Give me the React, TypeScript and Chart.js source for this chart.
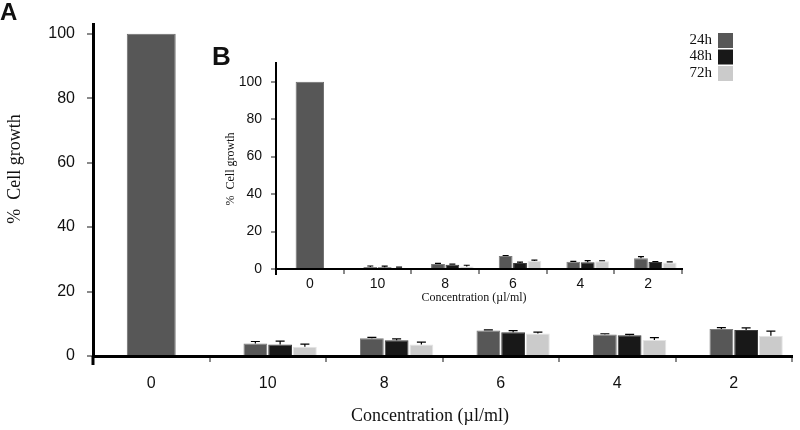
import React, { useEffect, useRef } from 'react';
import { Chart, registerables } from 'chart.js';

Chart.register(...registerables);

// ---------- data ----------
const categories = ['0', '10', '8', '6', '4', '2'];
const seriesLabels = ['24h', '48h', '72h'];

// Panel A (main)
const controlA = [100, null, null, null, null, null];
const a24 = [null, 3.9, 5.5, 7.9, 6.7, 8.4];
const a48 = [null, 3.6, 4.9, 7.4, 6.4, 8.1];
const a72 = [null, 2.9, 3.6, 7.0, 5.0, 6.3];
const a24Err = [null, 0.6, 0.3, 0.2, 0.2, 0.4];
const a48Err = [null, 1.0, 0.4, 0.5, 0.3, 0.6];
const a72Err = [null, 0.8, 0.7, 0.4, 0.7, 1.4];
const yTicksA = [0, 20, 40, 60, 80, 100];

// Panel B (inset)
const controlB = [100, null, null, null, null, null];
const b24 = [null, 1.1, 2.7, 6.9, 3.9, 5.7];
const b48 = [null, 0.9, 2.3, 3.2, 3.6, 3.7];
const b72 = [null, 0.7, 1.4, 4.3, 4.1, 3.5];
const b24Err = [null, 0.5, 0.3, 0.3, 0.2, 0.9];
const b48Err = [null, 0.6, 0.3, 0.5, 0.9, 0.3];
const b72Err = [null, 0.3, 0.6, 0.4, 0.3, 0.3];
const yTicksB = [0, 20, 40, 60, 80, 100];

const xTitle = 'Concentration (µl/ml)';
const yTitle = '%  Cell growth';

// ---------- styles ----------
const SANS = "'Liberation Sans', Arial, sans-serif";
const SERIF = "'Liberation Serif', 'Times New Roman', serif";
const C24 = '#575757';
const C48 = '#181818';
const C72 = '#cbcbcb';
const seriesColors = [C24, C48, C72];
const seriesBorders = ['#7c7c7c', '#3c3c3c', '#e4e4e4'];

const errorBarPlugin = {
  id: 'errorBars',
  afterDatasetsDraw(chart: any, _args: any, opts: any) {
    const ctx = chart.ctx;
    const yScale = chart.scales.y;
    chart.data.datasets.forEach((ds: any, i: number) => {
      if (!ds.errors) return;
      const meta = chart.getDatasetMeta(i);
      meta.data.forEach((bar: any, j: number) => {
        const v = ds.data[j];
        const e = ds.errors[j];
        if (v == null || e == null) return;
        const yTop = yScale.getPixelForValue(v + e);
        const half = (opts.cap || 8) / 2;
        ctx.save();
        ctx.strokeStyle = '#000';
        ctx.lineWidth = opts.lineWidth || 1.2;
        ctx.beginPath();
        ctx.moveTo(bar.x, bar.y);
        ctx.lineTo(bar.x, yTop);
        ctx.moveTo(bar.x - half, yTop);
        ctx.lineTo(bar.x + half, yTop);
        ctx.stroke();
        ctx.restore();
      });
    });
  },
};

function drawText(ctx: CanvasRenderingContext2D, text: string, x: number, y: number, font: string, rotate = false, align: CanvasTextAlign = 'center') {
  ctx.save();
  ctx.font = font;
  ctx.fillStyle = '#111';
  ctx.textAlign = align;
  ctx.textBaseline = 'middle';
  ctx.translate(x, y);
  if (rotate) ctx.rotate(-Math.PI / 2);
  ctx.fillText(text, 0, 0);
  ctx.restore();
}

const mainDecor = {
  id: 'mainDecor',
  afterDraw(chart: any) {
    const ctx = chart.ctx as CanvasRenderingContext2D;
    const ca = chart.chartArea;
    // y axis extension below x axis
    ctx.save();
    ctx.strokeStyle = '#000';
    ctx.lineWidth = 3;
    ctx.beginPath();
    ctx.moveTo(ca.left, ca.bottom);
    ctx.lineTo(ca.left, ca.bottom + 9);
    ctx.stroke();
    ctx.restore();
    // axis titles
    drawText(ctx, xTitle, 430, 416, `18px ${SERIF}`);
    drawText(ctx, yTitle, 15, 169, `18px ${SERIF}`, true);
    // panel letters
    ctx.save();
    ctx.fillStyle = '#111';
    ctx.font = `bold 24px ${SANS}`;
    ctx.textBaseline = 'alphabetic';
    ctx.fillText('A', 0, 20);
    ctx.font = `bold 26px ${SANS}`;
    ctx.fillText('B', 212, 65);
    ctx.restore();
    // legend
    seriesLabels.forEach((lab, i) => {
      const cy = 40 + i * 16.5;
      drawText(ctx, lab, 712, cy, `15px ${SERIF}`, false, 'right');
      ctx.save();
      ctx.fillStyle = seriesColors[i];
      ctx.fillRect(718, cy - 7, 15, 15);
      ctx.restore();
    });
  },
};

const insetDecor = {
  id: 'insetDecor',
  afterDraw(chart: any) {
    const ctx = chart.ctx as CanvasRenderingContext2D;
    const ca = chart.chartArea;
    ctx.save();
    ctx.strokeStyle = '#000';
    ctx.lineWidth = 2;
    ctx.beginPath();
    ctx.moveTo(ca.left, ca.bottom);
    ctx.lineTo(ca.left, ca.bottom + 6);
    ctx.stroke();
    ctx.restore();
    drawText(ctx, xTitle, 274, 268, `12px ${SERIF}`);
    drawText(ctx, yTitle, 31, 139, `12px ${SERIF}`, true);
  },
};

function buildConfig(p: any): any {
  const datasets: any[] = [
    {
      label: 'control',
      data: p.control,
      grouped: false,
      barPercentage: 0.42,
      categoryPercentage: 1,
      backgroundColor: C24,
      borderColor: '#6c6c6c',
      borderWidth: 1,
    },
    {
      label: 'control slot',
      data: categories.map(() => null),
      backgroundColor: 'rgba(0,0,0,0)',
    },
  ];
  p.series.forEach((s: any, i: number) => {
    datasets.push({
      label: seriesLabels[i],
      data: s,
      errors: p.errors[i],
      backgroundColor: seriesColors[i],
      borderColor: seriesBorders[i],
      borderWidth: 1,
    });
  });
  return {
    type: 'bar',
    data: { labels: categories, datasets },
    options: {
      responsive: false,
      animation: false,
      events: [],
      datasets: { bar: { categoryPercentage: 0.85, barPercentage: 0.96 } },
      layout: { padding: p.padding },
      plugins: {
        legend: { display: false },
        tooltip: { enabled: false },
        errorBars: { cap: p.cap, lineWidth: 1.2 },
      },
      scales: {
        x: {
          offset: true,
          grid: {
            offset: true,
            drawOnChartArea: false,
            drawTicks: true,
            tickLength: p.tickLen,
            color: '#8a8a8a',
            lineWidth: 2,
          },
          border: { display: true, color: '#000', width: p.axisWidth },
          ticks: { font: { family: SANS, size: p.fontSize }, color: '#111', padding: p.xPad },
          afterFit: (s: any) => { s.height = p.xHeight; },
        },
        y: {
          min: 0,
          max: p.yMax,
          ticks: {
            stepSize: 20,
            includeBounds: false,
            font: { family: SANS, size: p.fontSize },
            color: '#111',
            padding: p.yPad,
          },
          afterBuildTicks: (s: any) => { s.ticks = p.yTicks.map((v: number) => ({ value: v })); },
          grid: {
            drawOnChartArea: false,
            drawTicks: true,
            tickLength: p.tickLen,
            color: '#8a8a8a',
            lineWidth: 2,
          },
          border: { display: true, color: '#000', width: p.axisWidth },
          afterFit: (s: any) => { s.width = p.yWidth; },
        },
      },
    },
    plugins: [errorBarPlugin, p.decor],
  };
}

export default function App() {
  const mainRef = useRef<HTMLCanvasElement>(null);
  const insetRef = useRef<HTMLCanvasElement>(null);

  useEffect(() => {
    const main = new Chart(mainRef.current!, buildConfig({
      control: controlA,
      series: [a24, a48, a72],
      errors: [a24Err, a48Err, a72Err],
      yMax: 103,
      yTicks: yTicksA,
      padding: { top: 24, right: 8, left: 0, bottom: 0 },
      yWidth: 93,
      xHeight: 74,
      tickLen: 6,
      fontSize: 16,
      xPad: 12,
      yPad: 12,
      axisWidth: 3,
      cap: 9,
      decor: mainDecor,
    }));
    const inset = new Chart(insetRef.current!, buildConfig({
      control: controlB,
      series: [b24, b48, b72],
      errors: [b24Err, b48Err, b72Err],
      yMax: 110,
      yTicks: yTicksB,
      padding: { top: 33, right: 18, left: 0, bottom: 0 },
      yWidth: 76,
      xHeight: 46,
      tickLen: 5,
      fontSize: 14,
      xPad: 2,
      yPad: 9,
      axisWidth: 2,
      cap: 6,
      decor: insetDecor,
    }));
    return () => {
      main.destroy();
      inset.destroy();
    };
  }, []);

  return (
    <div style={{ position: 'fixed', left: 0, top: 0, width: 800, height: 430, background: '#fff' }}>
      <canvas ref={mainRef} width={800} height={430} style={{ position: 'absolute', left: 0, top: 0 }} />
      <canvas ref={insetRef} width={500} height={285} style={{ position: 'absolute', left: 200, top: 30 }} />
    </div>
  );
}
